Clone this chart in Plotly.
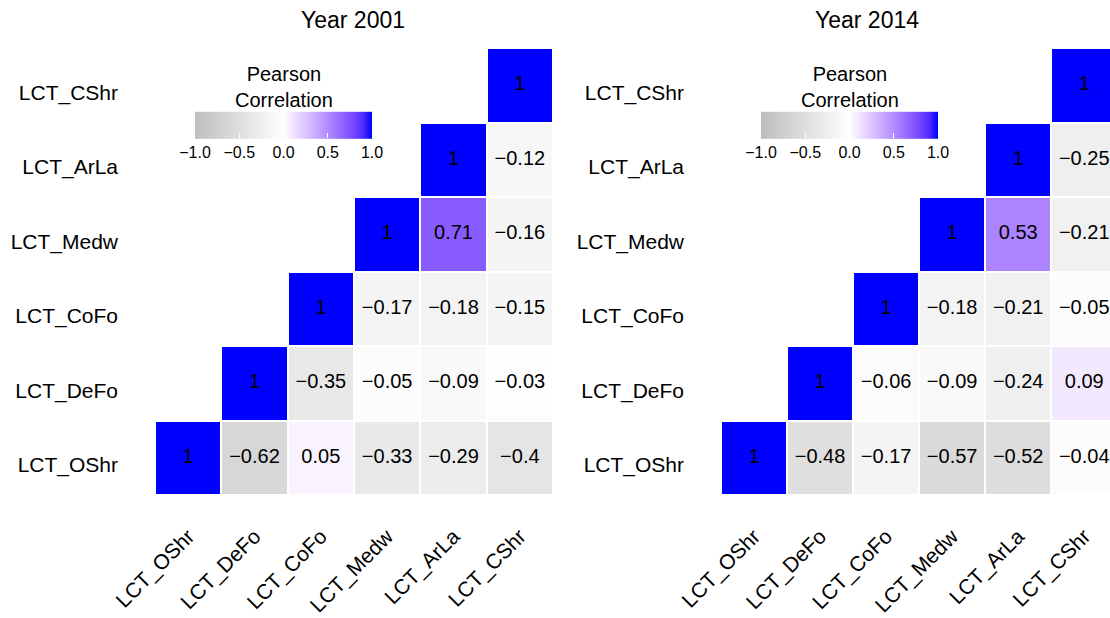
import numpy as np
import plotly.graph_objects as go

labels = ["LCT_OShr", "LCT_DeFo", "LCT_CoFo", "LCT_Medw", "LCT_ArLa", "LCT_CShr"]

# rows (bottom to top) x columns (left to right); None = lower triangle (blank)
corr_2001 = [
    [1, -0.62, 0.05, -0.33, -0.29, -0.4],
    [None, 1, -0.35, -0.05, -0.09, -0.03],
    [None, None, 1, -0.17, -0.18, -0.15],
    [None, None, None, 1, 0.71, -0.16],
    [None, None, None, None, 1, -0.12],
    [None, None, None, None, None, 1],
]
corr_2014 = [
    [1, -0.48, -0.17, -0.57, -0.52, -0.04],
    [None, 1, -0.06, -0.09, -0.24, 0.09],
    [None, None, 1, -0.18, -0.21, -0.05],
    [None, None, None, 1, 0.53, -0.21],
    [None, None, None, None, 1, -0.25],
    [None, None, None, None, None, 1],
]
titles = ["Year 2001", "Year 2014"]
legend_title = "Pearson<br>Correlation"
cbar_ticks = [-1.0, -0.5, 0.0, 0.5, 1.0]

FONT = "Liberation Sans, Arial, Helvetica, sans-serif"
W, H = 1110, 618


# ---- Lab-space gradient (gray -> white -> blue), like scale_fill_gradient2 ----
def srgb_to_lab(c):
    c = np.array(c, float) / 255
    lin = np.where(c <= 0.04045, c / 12.92, ((c + 0.055) / 1.055) ** 2.4)
    M = np.array([[0.4124, 0.3576, 0.1805], [0.2126, 0.7152, 0.0722], [0.0193, 0.1192, 0.9505]])
    xyz = M @ lin / np.array([0.95047, 1.0, 1.08883])
    f = np.where(xyz > 0.008856, np.cbrt(xyz), 7.787 * xyz + 16 / 116)
    return np.array([116 * f[1] - 16, 500 * (f[0] - f[1]), 200 * (f[1] - f[2])])


def lab_to_srgb(lab):
    L, a, b = lab
    fy = (L + 16) / 116
    fx = fy + a / 500
    fz = fy - b / 200
    f = np.array([fx, fy, fz])
    xyz = np.where(f ** 3 > 0.008856, f ** 3, (f - 16 / 116) / 7.787) * np.array([0.95047, 1.0, 1.08883])
    Mi = np.array([[3.2406, -1.5372, -0.4986], [-0.9689, 1.8758, 0.0415], [0.0557, -0.2040, 1.0570]])
    lin = np.clip(Mi @ xyz, 0, 1)
    c = np.where(lin <= 0.0031308, 12.92 * lin, 1.055 * lin ** (1 / 2.4) - 0.055)
    c = np.clip(np.round(c * 255), 0, 255).astype(int)
    return f"rgb({c[0]},{c[1]},{c[2]})"


low, mid, high = srgb_to_lab((190, 190, 190)), srgb_to_lab((255, 255, 255)), srgb_to_lab((0, 0, 255))
colorscale = []
for i in range(21):
    t = i / 20
    v = -1 + 2 * t
    lab = mid + (low - mid) * (-v) if v < 0 else mid + (high - mid) * v
    colorscale.append([t, lab_to_srgb(lab)])


def fmt(v):
    return f"{v:g}".replace("-", "\u2212")


fig = go.Figure()

panels = [
    dict(data=corr_2001, xd=[155 / W, 553 / W], xr=[-0.5, 5.5], cbx=283.5, tx=353),
    dict(data=corr_2014, xd=[721 / W, 1.0], xr=[-0.5, 5.39], cbx=849.5, tx=867),
]
ydom = [(H - 495) / H, (H - 48) / H]
ylabel_shift = 0.094  # row labels sit slightly below the cell centres

for k, p in enumerate(panels):
    xa = "x" if k == 0 else "x2"
    ya = "y" if k == 0 else "y2"
    z = [[np.nan if v is None else v for v in row] for row in p["data"]]
    fig.add_trace(go.Heatmap(
        z=z, x=list(range(6)), y=list(range(6)),
        zmin=-1, zmax=1, colorscale=colorscale, xgap=2, ygap=2,
        hoverongaps=False, xaxis=xa, yaxis=ya,
        colorbar=dict(
            orientation="h", x=p["cbx"] / W, xanchor="center", y=(H - 167) / H, yanchor="bottom",
            lenmode="pixels", len=197, thickness=27, outlinewidth=0, xpad=10, ypad=0,
            tickvals=cbar_ticks, ticktext=[f"{t:.1f}".replace("-", "\u2212") for t in cbar_ticks],
            ticks="inside", ticklen=5, tickcolor="white", tickwidth=1,
            tickfont=dict(family=FONT, size=16, color="black"),
        ),
    ))
    tx, ty, tt = [], [], []
    for r, row in enumerate(p["data"]):
        for c, v in enumerate(row):
            if v is not None:
                tx.append(c)
                ty.append(r)
                tt.append(fmt(v))
    fig.add_trace(go.Scatter(
        x=tx, y=ty, text=tt, mode="text", textposition="middle center",
        textfont=dict(family=FONT, size=20, color="black"),
        xaxis=xa, yaxis=ya, showlegend=False, hoverinfo="skip", cliponaxis=True,
    ))
    axis_common = dict(showgrid=False, zeroline=False, showline=False, ticks="",
                       automargin=False, ticktext=labels,
                       tickfont=dict(family=FONT, size=21, color="black"))
    fig.update_layout(**{
        ("xaxis" if k == 0 else "xaxis2"): dict(axis_common, domain=p["xd"], range=p["xr"],
                                                 tickvals=list(range(6)),
                                                 tickangle=-45, anchor=ya, ticklabelstandoff=24),
        ("yaxis" if k == 0 else "yaxis2"): dict(axis_common, domain=ydom, range=[-0.5, 5.5],
                                                 tickvals=[i - ylabel_shift for i in range(6)],
                                                 anchor=xa, ticklabelstandoff=36),
    })
    fig.add_annotation(text=titles[k], x=p["tx"] / W, y=(H - 20) / H, xref="paper", yref="paper",
                       xanchor="center", yanchor="middle", showarrow=False,
                       font=dict(family=FONT, size=23, color="black"))
    fig.add_annotation(text=legend_title, x=p["cbx"] / W, y=(H - 87) / H, xref="paper", yref="paper",
                       xanchor="center", yanchor="middle", showarrow=False,
                       font=dict(family=FONT, size=20, color="black"))

fig.update_layout(
    width=W, height=H, margin=dict(l=0, r=0, t=0, b=0, autoexpand=False),
    paper_bgcolor="white", plot_bgcolor="white", showlegend=False,
)

fig.write_html("out.html")
